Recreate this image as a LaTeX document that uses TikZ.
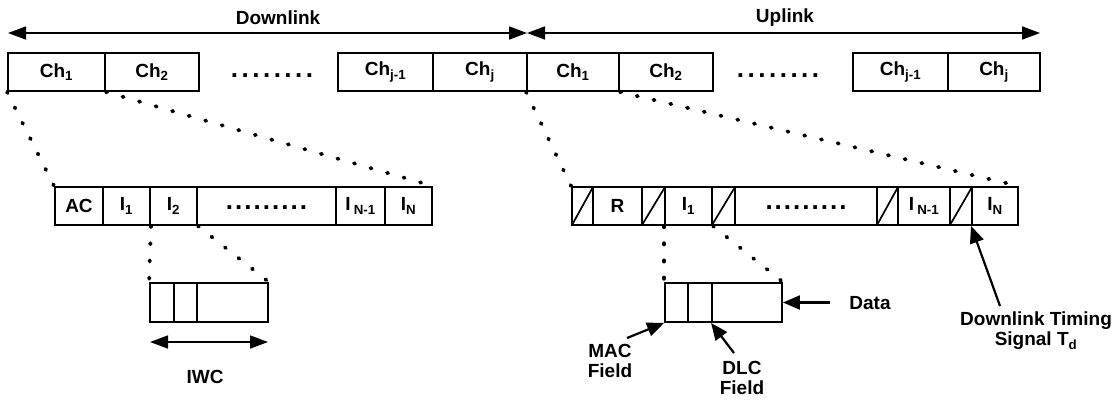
\documentclass[tikz,border=0pt]{standalone}
\usepackage{fontspec}
\setmainfont{Liberation Sans}
\usetikzlibrary{arrows.meta}
\newcommand\mydots[2]{\textbf{.}\foreach \i in {2,...,#1}{\kern#2\textbf{.}}}
\tikzset{
  cell/.style={draw, line width=1.9pt, inner sep=0pt, minimum height=38pt, font=\fontsize{19}{20}\selectfont\bfseries},
  hatch/.style={cell, path picture={\draw[line width=1.7pt] (path picture bounding box.south west) -- (path picture bounding box.north east);}},
  lbl/.style={inner sep=0pt, font=\fontsize{19}{20}\selectfont\bfseries},
  dotstxt/.style={inner sep=0pt, font=\fontsize{26}{26}\selectfont},
  zoomline/.style={line width=3.8pt, line cap=round, dash pattern=on 1.2pt off 16pt},
  arr/.style={line width=2.2pt, -{Triangle[length=17pt,width=14pt]}},
  dbl/.style={line width=1.6pt, {Triangle[length=18pt,width=13pt]}-{Triangle[length=18pt,width=13pt]}}
}
\begin{document}
\begin{tikzpicture}[x=1pt,y=-1pt]
\useasboundingbox (0,0) rectangle (1115,400);
% top arrows
\coordinate (dlL) at (8,33);
\coordinate (mid) at (527,33);
\coordinate (ulR) at (1040,33);
\draw[dbl] (dlL) -- (mid);
\draw[dbl] (mid) -- (ulR);
\node[lbl] (tdl) at (278,18) {Downlink};
\node[lbl] (tul) at (785,18) {Uplink};
% top row
\node[cell, minimum width=97pt] (d1) at (56.5,72) {Ch\textsubscript{1}};
\node[cell, minimum width=94pt] (d2) at (152,72) {Ch\textsubscript{2}};
\node[dotstxt] (ddots) at (272,76) {\mydots{8}{3.5pt}};
\node[cell, minimum width=95pt] (dj1) at (385.5,72) {Ch\textsubscript{j-1}};
\node[cell, minimum width=94pt] (dj) at (480,72) {Ch\textsubscript{j}};
\node[cell, minimum width=92pt] (u1) at (573,72) {Ch\textsubscript{1}};
\node[cell, minimum width=94pt] (u2) at (666,72) {Ch\textsubscript{2}};
\node[dotstxt] (udots) at (778,76) {\mydots{8}{3.5pt}};
\node[cell, minimum width=95pt] (uj1) at (900.5,72) {Ch\textsubscript{j-1}};
\node[cell, minimum width=92pt] (uj) at (994,72) {Ch\textsubscript{j}};
% middle left row
\node[cell, minimum width=48pt] (ac) at (79,206) {AC};
\node[cell, minimum width=47pt] (i1) at (126.5,206) {I\textsubscript{1}};
\node[cell, minimum width=47pt] (i2) at (173.5,206) {I\textsubscript{2}};
\node[cell, minimum width=139pt] (ldots) at (266.5,206) {\raisebox{-6pt}{\fontsize{26}{26}\selectfont\mydots{9}{2pt}}};
\node[cell, minimum width=49pt] (lin1) at (360.5,206) {I\,\textsubscript{N-1}};
\node[cell, minimum width=47pt] (lin) at (408.5,206) {I\textsubscript{N}};
% middle right row
\node[hatch, minimum width=21pt] (h1) at (582.5,206) {};
\node[cell, minimum width=49pt] (rr) at (617.5,206) {R};
\node[hatch, minimum width=23pt] (h2) at (653.5,206) {};
\node[cell, minimum width=47pt] (ri1) at (688.5,206) {I\textsubscript{1}};
\node[hatch, minimum width=23pt] (h3) at (723.5,206) {};
\node[cell, minimum width=142pt] (rdots) at (806,206) {\raisebox{-6pt}{\fontsize{26}{26}\selectfont\mydots{9}{2pt}}};
\node[hatch, minimum width=21pt] (h4) at (887.5,206) {};
\node[cell, minimum width=52pt] (rin1) at (924,206) {I\,\textsubscript{N-1}};
\node[hatch, minimum width=22pt] (h5) at (961,206) {};
\node[cell, minimum width=46pt] (rin) at (995,206) {I\textsubscript{N}};
% IWC box
\node[cell, minimum width=24pt, minimum height=39pt] (w1) at (162,302.5) {};
\node[cell, minimum width=23pt, minimum height=39pt] (w2) at (185.5,302.5) {};
\node[cell, minimum width=71pt, minimum height=39pt] (w3) at (232.5,302.5) {};
\coordinate (iwcL) at (150,342);
\coordinate (iwcR) at (268,342);
\draw[dbl] (iwcL) -- (iwcR);
\node[lbl] (iwc) at (205,377) {IWC};
% MAC box
\node[cell, minimum width=23pt, minimum height=39pt] (m1) at (676.5,302.5) {};
\node[cell, minimum width=24pt, minimum height=39pt] (m2) at (700,302.5) {};
\node[cell, minimum width=70pt, minimum height=39pt] (m3) at (747,302.5) {};
% zoom lines
\draw[zoomline] (d1.south west) -- (ac.north west);
\draw[zoomline] (d1.south east) -- (lin.north east);
\draw[zoomline] (u1.south west) -- (h1.north west);
\draw[zoomline] (u1.south east) -- (rin.north east);
\draw[zoomline] (i1.south east) -- (w1.north west);
\draw[zoomline] (i2.south east) -- (w3.north east);
\draw[zoomline] (ri1.south west) -- (m1.north west);
\draw[zoomline] (ri1.south east) -- (m3.north east);
% callouts
\node[lbl, align=center] (mac) at (610,361) {MAC\\Field};
\node[lbl, align=center] (dlc) at (742,378) {DLC\\Field};
\node[lbl] (data) at (870,303) {Data};
\node[lbl, align=center] (td) at (1036,331) {Downlink Timing\\Signal T\textsubscript{d}};
\coordinate (macT) at (627,338);
\coordinate (dlcT) at (734,353);
\coordinate (dataT) at (830,302.5);
\coordinate (tdT) at (1000,306);
\draw[arr] (macT) -- (m1.south west);
\draw[arr] (dlcT) -- (m3.south west);
\draw[arr] (dataT) -- (m3.east);
\draw[arr] (tdT) -- (rin.south west);
\end{tikzpicture}
\end{document}
